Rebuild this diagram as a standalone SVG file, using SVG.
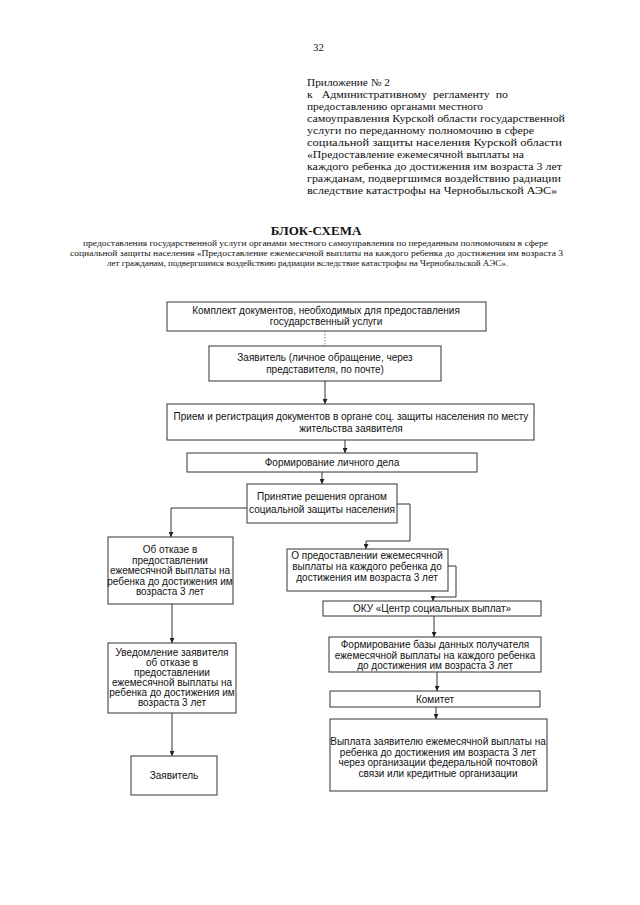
<svg xmlns="http://www.w3.org/2000/svg" width="640" height="905" viewBox="0 0 640 905">
<style>
.hdr{font-family:"Liberation Serif","Times New Roman",serif;font-size:10.8px;fill:#111}
.sub{font-family:"Liberation Serif","Times New Roman",serif;font-size:9px;fill:#111}
.ttl{font-family:"Liberation Serif","Times New Roman",serif;font-size:13px;font-weight:bold;fill:#111}
.box{fill:#fff;stroke:#333;stroke-width:1}
.t{font-family:"Liberation Sans",Arial,sans-serif;font-size:10px;fill:#111;text-anchor:middle}
.c{fill:none;stroke:#333;stroke-width:1}
.d{fill:none;stroke:#888;stroke-width:1;stroke-dasharray:1.5 1.5}
</style>
<defs>
<marker id="ah" viewBox="0 0 6 6" refX="6" refY="3" markerWidth="5" markerHeight="5" orient="auto" markerUnits="userSpaceOnUse">
<path d="M0,0 L6,3 L0,6 z" fill="#222"/>
</marker>
</defs>
<rect width="640" height="905" fill="#fff"/>
<g id="header">
<text class="hdr" x="313" y="51" font-size="13">32</text>
<text class="hdr" x="307" y="86" textLength="83" lengthAdjust="spacingAndGlyphs">Приложение № 2</text>
<text class="hdr" x="307" y="98" xml:space="preserve" textLength="201" lengthAdjust="spacingAndGlyphs">к   Административному  регламенту  по</text>
<text class="hdr" x="307" y="110" textLength="176" lengthAdjust="spacingAndGlyphs">предоставлению органами местного</text>
<text class="hdr" x="307" y="122" textLength="258" lengthAdjust="spacingAndGlyphs">самоуправления Курской области государственной</text>
<text class="hdr" x="307" y="134" textLength="227" lengthAdjust="spacingAndGlyphs">услуги по переданному полномочию в сфере</text>
<text class="hdr" x="307" y="146" textLength="255" lengthAdjust="spacingAndGlyphs">социальной защиты населения Курской области</text>
<text class="hdr" x="307" y="158" textLength="217" lengthAdjust="spacingAndGlyphs">«Предоставление ежемесячной выплаты на</text>
<text class="hdr" x="307" y="170" textLength="255" lengthAdjust="spacingAndGlyphs">каждого ребенка до достижения им возраста 3 лет</text>
<text class="hdr" x="307" y="182" textLength="254" lengthAdjust="spacingAndGlyphs">гражданам, подвергшимся воздействию радиации</text>
<text class="hdr" x="307" y="194" textLength="250" lengthAdjust="spacingAndGlyphs">вследствие катастрофы на Чернобыльской АЭС»</text>
<text class="ttl" x="316" y="235" text-anchor="middle">БЛОК-СХЕМА</text>
<text class="sub" x="83" y="246" textLength="465" lengthAdjust="spacingAndGlyphs">предоставления государственной услуги органами местного самоуправления по переданным полномочиям в сфере</text>
<text class="sub" x="70" y="256" textLength="493" lengthAdjust="spacingAndGlyphs">социальной защиты населения «Предоставление ежемесячной выплаты на каждого ребенка до достижения им возраста 3</text>
<text class="sub" x="107" y="266" textLength="401" lengthAdjust="spacingAndGlyphs">лет гражданам, подвергшимся воздействию радиации вследствие катастрофы на Чернобыльской АЭС».</text>
</g>
<g id="connectors">
<path class="d" d="M325,331 V346"/>
<path class="c" d="M325,381 V404" marker-end="url(#ah)"/>
<path class="c" d="M345,440 V453" marker-end="url(#ah)"/>
<path class="c" d="M322,472 V484" marker-end="url(#ah)"/>
<path class="c" d="M247,508 H171 V537" marker-end="url(#ah)"/>
<path class="c" d="M397,504 H410 V541 H366 V549" marker-end="url(#ah)"/>
<path class="c" d="M448,566 H456 V597 H433 V601" marker-end="url(#ah)"/>
<path class="c" d="M434,616 V637" marker-end="url(#ah)"/>
<path class="c" d="M437,672 V691" marker-end="url(#ah)"/>
<path class="c" d="M436,707 V719" marker-end="url(#ah)"/>
<path class="c" d="M172,604 V643" marker-end="url(#ah)"/>
<path class="c" d="M172,713 V756" marker-end="url(#ah)"/>
</g>
<g id="n1"><rect class="box" x="167" y="302" width="319" height="29"/>
<text class="t" x="326" y="313.5">Комплект документов, необходимых для предоставления</text>
<text class="t" x="326" y="324.5">государственный услуги</text></g>
<g id="n2"><rect class="box" x="209" y="346" width="232" height="35"/>
<text class="t" x="325" y="361">Заявитель (личное обращение, через</text>
<text class="t" x="325" y="372.5">представителя, по почте)</text></g>
<g id="n3"><rect class="box" x="167" y="404" width="367" height="36"/>
<text class="t" x="351" y="420">Прием и регистрация документов в органе соц. защиты населения по месту</text>
<text class="t" x="351" y="431.5">жительства заявителя</text></g>
<g id="n4"><rect class="box" x="187" y="453" width="290" height="19"/>
<text class="t" x="332" y="466">Формирование личного дела</text></g>
<g id="n5"><rect class="box" x="247" y="484" width="150" height="39"/>
<text class="t" x="322" y="500">Принятие решения органом</text>
<text class="t" x="322" y="512.5">социальной защиты населения</text></g>
<g id="n6"><rect class="box" x="108" y="537" width="125" height="67"/>
<text class="t" x="170" y="553">Об отказе в</text>
<text class="t" x="170" y="563.5">предоставлении</text>
<text class="t" x="170" y="574">ежемесячной выплаты на</text>
<text class="t" x="170" y="584.5">ребенка до достижения им</text>
<text class="t" x="170" y="595">возраста 3 лет</text></g>
<g id="n7"><rect class="box" x="287" y="549" width="161" height="42"/>
<text class="t" x="367" y="559">О предоставлении ежемесячной</text>
<text class="t" x="367" y="570">выплаты на каждого ребенка до</text>
<text class="t" x="367" y="581">достижения им возраста 3 лет</text></g>
<g id="n8"><rect class="box" x="323" y="601" width="218" height="15"/>
<text class="t" x="432" y="612">ОКУ «Центр социальных выплат»</text></g>
<g id="n9"><rect class="box" x="329" y="637" width="212" height="35"/>
<text class="t" x="435" y="648">Формирование базы данных получателя</text>
<text class="t" x="435" y="658.5">ежемесячной выплаты на каждого ребенка</text>
<text class="t" x="435" y="669">до достижения им возраста 3 лет</text></g>
<g id="n10"><rect class="box" x="330" y="691" width="210" height="16"/>
<text class="t" x="435" y="702.5">Комитет</text></g>
<g id="n11"><rect class="box" x="330" y="719" width="217" height="72"/>
<text class="t" x="438" y="745">Выплата заявителю ежемесячной выплаты на</text>
<text class="t" x="438" y="755.5">ребенка до достижения им возраста 3 лет</text>
<text class="t" x="438" y="766">через организации федеральной почтовой</text>
<text class="t" x="438" y="776.5">связи или кредитные организации</text></g>
<g id="n12"><rect class="box" x="108" y="643" width="128" height="70"/>
<text class="t" x="172" y="656">Уведомление заявителя</text>
<text class="t" x="172" y="666">об отказе в</text>
<text class="t" x="172" y="676">предоставлении</text>
<text class="t" x="172" y="686">ежемесячной выплаты на</text>
<text class="t" x="172" y="696">ребенка до достижения им</text>
<text class="t" x="172" y="706">возраста 3 лет</text></g>
<g id="n13"><rect class="box" x="131" y="756" width="86" height="39"/>
<text class="t" x="174" y="779">Заявитель</text></g>
</svg>
